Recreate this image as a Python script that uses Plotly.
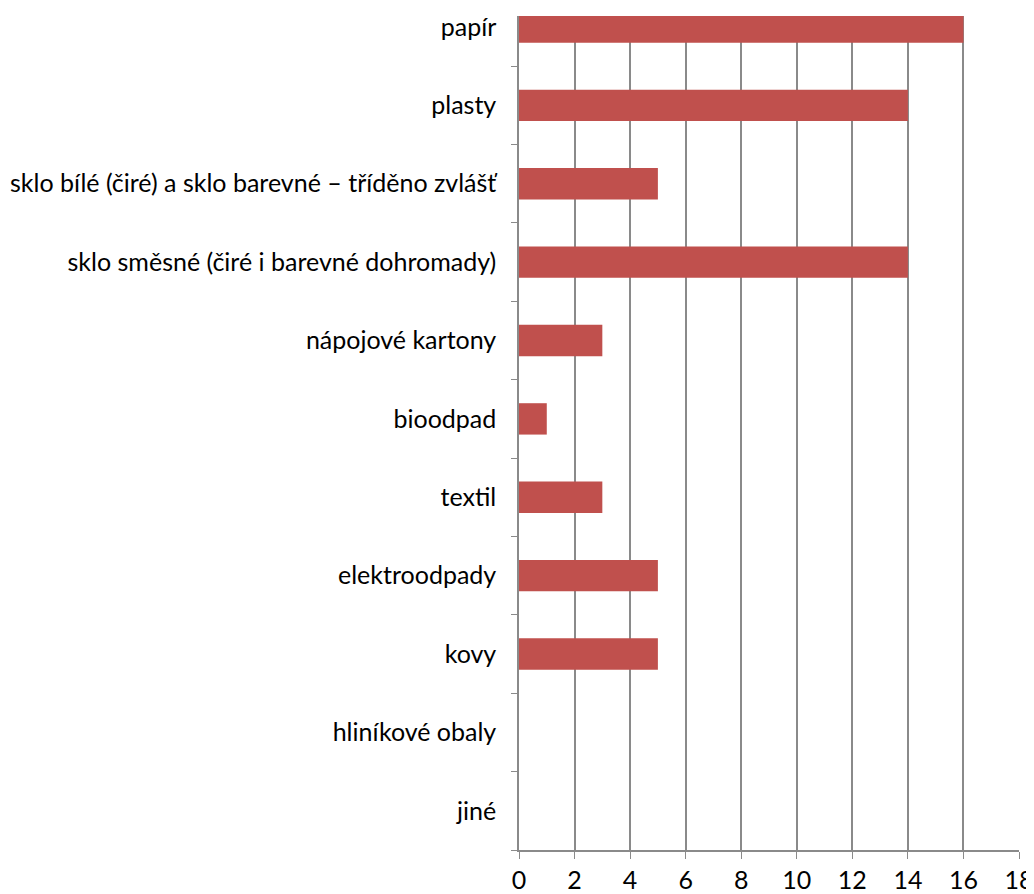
import plotly.graph_objects as go

categories = ["papír", "plasty", "sklo bílé (čiré) a sklo barevné – tříděno zvlášť",
              "sklo směsné (čiré i barevné dohromady)", "nápojové kartony", "bioodpad",
              "textil", "elektroodpady", "kovy", "hliníkové obaly", "jiné"]
values = [16, 14, 5, 14, 3, 1, 3, 5, 5, 0, 0]
x_ticks = [0, 2, 4, 6, 8, 10, 12, 14, 16, 18]

cats_r = categories[::-1]
vals_r = values[::-1]

fig = go.Figure(go.Bar(
    x=vals_r, y=cats_r, orientation="h",
    marker=dict(color="#C0504D", line=dict(width=0)),
))

font = dict(family="Lato, Open Sans, sans-serif", size=25, color="#000000")

fig.update_layout(
    width=1026, height=886,
    margin=dict(l=511, r=15, t=8, b=44),
    paper_bgcolor="white", plot_bgcolor="white",
    bargap=0.6, showlegend=False,
    font=font,
)
fig.update_xaxes(
    range=[0, 18], tickvals=x_ticks, showgrid=True, gridcolor="#8A8A8A", gridwidth=1.5,
    zeroline=False, showline=True, linecolor="#8A8A8A", linewidth=1.5,
    ticks="outside", ticklen=7, tickcolor="#8A8A8A", tickfont=font, automargin=False,
)
fig.update_yaxes(
    type="category", categoryorder="array", categoryarray=cats_r,
    range=[-0.5, 10.14], tickson="boundaries", ticks="outside", ticklen=6,
    tickcolor="#8A8A8A", showline=True, linecolor="#8A8A8A", linewidth=1.5,
    showgrid=False, zeroline=False, tickfont=font, ticklabelstandoff=16,
    automargin=False,
)
fig.write_html("out.html")
